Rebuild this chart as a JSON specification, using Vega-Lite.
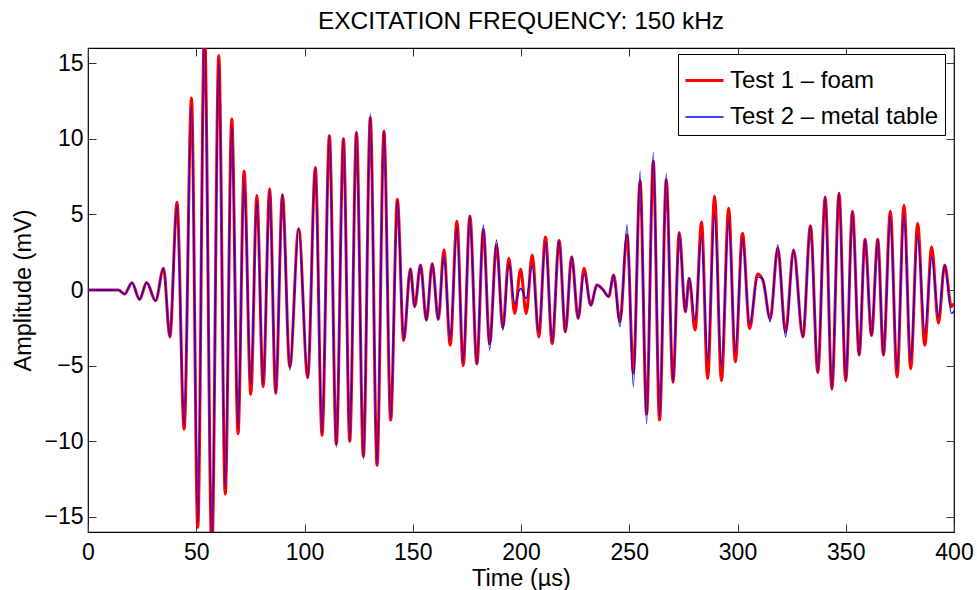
{
  "$schema": "https://vega.github.io/schema/vega-lite/v6.json",
  "autosize": {"type": "none"},
  "padding": {"left": 88, "top": 48, "right": 23, "bottom": 58},
  "width": 866,
  "height": 484,
  "title": {"text": "EXCITATION FREQUENCY: 150 kHz", "fontSize": 24.5, "fontWeight": "normal", "font": "Liberation Sans", "color": "black", "offset": 13, "anchor": "middle"},
  "config": {
    "view": {"stroke": "black", "strokeWidth": 1.2},
    "axis": {"labelFont": "Liberation Sans", "titleFont": "Liberation Sans", "labelFontSize": 23, "titleFontSize": 23.5, "labelColor": "black", "titleColor": "black", "titleFontWeight": "normal", "grid": false, "domain": false, "tickColor": "#333", "tickSize": -8, "tickWidth": 1, "labelFlush": false}
  },
  "data": {"values": [
    {"test": "Test 1 – foam", "t": 0, "mV": 0},
    {"test": "Test 1 – foam", "t": 14, "mV": 0},
    {"test": "Test 1 – foam", "t": 16.9, "mV": -0.27},
    {"test": "Test 1 – foam", "t": 20.3, "mV": 0.48},
    {"test": "Test 1 – foam", "t": 23.8, "mV": -0.62},
    {"test": "Test 1 – foam", "t": 27.1, "mV": 0.49},
    {"test": "Test 1 – foam", "t": 31.2, "mV": -0.71},
    {"test": "Test 1 – foam", "t": 34.9, "mV": 1.44},
    {"test": "Test 1 – foam", "t": 37.8, "mV": -3.1},
    {"test": "Test 1 – foam", "t": 41.1, "mV": 5.8},
    {"test": "Test 1 – foam", "t": 44.4, "mV": -9.2},
    {"test": "Test 1 – foam", "t": 47.8, "mV": 12.7},
    {"test": "Test 1 – foam", "t": 50.7, "mV": -15.7},
    {"test": "Test 1 – foam", "t": 53.8, "mV": 17.3},
    {"test": "Test 1 – foam", "t": 57.2, "mV": -17.3},
    {"test": "Test 1 – foam", "t": 60.4, "mV": 15.5},
    {"test": "Test 1 – foam", "t": 63.4, "mV": -13.5},
    {"test": "Test 1 – foam", "t": 66.4, "mV": 11.3},
    {"test": "Test 1 – foam", "t": 69.3, "mV": -9.5},
    {"test": "Test 1 – foam", "t": 72.1, "mV": 7.85},
    {"test": "Test 1 – foam", "t": 75.2, "mV": -6.9},
    {"test": "Test 1 – foam", "t": 78.0, "mV": 6.25},
    {"test": "Test 1 – foam", "t": 80.9, "mV": -6.4},
    {"test": "Test 1 – foam", "t": 83.9, "mV": 6.7},
    {"test": "Test 1 – foam", "t": 86.7, "mV": -6.85},
    {"test": "Test 1 – foam", "t": 89.8, "mV": 6.3},
    {"test": "Test 1 – foam", "t": 93.2, "mV": -5.1},
    {"test": "Test 1 – foam", "t": 97.3, "mV": 4.05},
    {"test": "Test 1 – foam", "t": 101.5, "mV": -5.8},
    {"test": "Test 1 – foam", "t": 105.0, "mV": 8.1},
    {"test": "Test 1 – foam", "t": 108.1, "mV": -9.6},
    {"test": "Test 1 – foam", "t": 111.5, "mV": 10.2},
    {"test": "Test 1 – foam", "t": 114.7, "mV": -10.2},
    {"test": "Test 1 – foam", "t": 118.0, "mV": 10.0},
    {"test": "Test 1 – foam", "t": 120.9, "mV": -10.0},
    {"test": "Test 1 – foam", "t": 124.0, "mV": 10.4},
    {"test": "Test 1 – foam", "t": 127.2, "mV": -11.0},
    {"test": "Test 1 – foam", "t": 130.4, "mV": 11.4},
    {"test": "Test 1 – foam", "t": 133.5, "mV": -11.6},
    {"test": "Test 1 – foam", "t": 136.7, "mV": 10.5},
    {"test": "Test 1 – foam", "t": 139.8, "mV": -8.6},
    {"test": "Test 1 – foam", "t": 142.9, "mV": 6.0},
    {"test": "Test 1 – foam", "t": 145.8, "mV": -3.35},
    {"test": "Test 1 – foam", "t": 148.9, "mV": 1.4},
    {"test": "Test 1 – foam", "t": 150.9, "mV": -1.1},
    {"test": "Test 1 – foam", "t": 153.6, "mV": 1.65},
    {"test": "Test 1 – foam", "t": 156.3, "mV": -2.0},
    {"test": "Test 1 – foam", "t": 159.0, "mV": 1.75},
    {"test": "Test 1 – foam", "t": 161.8, "mV": -1.95},
    {"test": "Test 1 – foam", "t": 164.4, "mV": 2.65},
    {"test": "Test 1 – foam", "t": 167.3, "mV": -3.65},
    {"test": "Test 1 – foam", "t": 170.4, "mV": 4.55},
    {"test": "Test 1 – foam", "t": 173.3, "mV": -5.0},
    {"test": "Test 1 – foam", "t": 176.4, "mV": 4.9},
    {"test": "Test 1 – foam", "t": 179.6, "mV": -4.9},
    {"test": "Test 1 – foam", "t": 182.6, "mV": 4.0},
    {"test": "Test 1 – foam", "t": 185.5, "mV": -3.55},
    {"test": "Test 1 – foam", "t": 188.7, "mV": 3.0},
    {"test": "Test 1 – foam", "t": 191.6, "mV": -2.5},
    {"test": "Test 1 – foam", "t": 194.4, "mV": 2.1},
    {"test": "Test 1 – foam", "t": 197.1, "mV": -1.55},
    {"test": "Test 1 – foam", "t": 199.8, "mV": 1.37},
    {"test": "Test 1 – foam", "t": 202.4, "mV": -1.55},
    {"test": "Test 1 – foam", "t": 205.2, "mV": 2.32},
    {"test": "Test 1 – foam", "t": 208.2, "mV": -3.1},
    {"test": "Test 1 – foam", "t": 211.3, "mV": 3.5},
    {"test": "Test 1 – foam", "t": 214.4, "mV": -3.55},
    {"test": "Test 1 – foam", "t": 217.6, "mV": 3.27},
    {"test": "Test 1 – foam", "t": 220.5, "mV": -2.76},
    {"test": "Test 1 – foam", "t": 223.4, "mV": 2.2},
    {"test": "Test 1 – foam", "t": 226.4, "mV": -1.88},
    {"test": "Test 1 – foam", "t": 229.1, "mV": 1.44},
    {"test": "Test 1 – foam", "t": 232.2, "mV": -1.0},
    {"test": "Test 1 – foam", "t": 235.1, "mV": 0.33},
    {"test": "Test 1 – foam", "t": 237.7, "mV": 0.05},
    {"test": "Test 1 – foam", "t": 240.5, "mV": -0.44},
    {"test": "Test 1 – foam", "t": 242.8, "mV": 1.0},
    {"test": "Test 1 – foam", "t": 245.7, "mV": -2.1},
    {"test": "Test 1 – foam", "t": 249.0, "mV": 3.65},
    {"test": "Test 1 – foam", "t": 251.9, "mV": -5.5},
    {"test": "Test 1 – foam", "t": 255.0, "mV": 7.2},
    {"test": "Test 1 – foam", "t": 258.0, "mV": -8.2},
    {"test": "Test 1 – foam", "t": 261.1, "mV": 8.5},
    {"test": "Test 1 – foam", "t": 264.0, "mV": -8.6},
    {"test": "Test 1 – foam", "t": 267.1, "mV": 7.3},
    {"test": "Test 1 – foam", "t": 270.2, "mV": -6.1},
    {"test": "Test 1 – foam", "t": 273.1, "mV": 3.8},
    {"test": "Test 1 – foam", "t": 275.9, "mV": -1.45},
    {"test": "Test 1 – foam", "t": 277.7, "mV": 0.78},
    {"test": "Test 1 – foam", "t": 280.4, "mV": -2.65},
    {"test": "Test 1 – foam", "t": 283.4, "mV": 4.5},
    {"test": "Test 1 – foam", "t": 286.2, "mV": -5.85},
    {"test": "Test 1 – foam", "t": 289.4, "mV": 6.2},
    {"test": "Test 1 – foam", "t": 292.6, "mV": -6.0},
    {"test": "Test 1 – foam", "t": 295.9, "mV": 5.4},
    {"test": "Test 1 – foam", "t": 299.0, "mV": -4.75},
    {"test": "Test 1 – foam", "t": 302.3, "mV": 3.75},
    {"test": "Test 1 – foam", "t": 305.6, "mV": -2.55},
    {"test": "Test 1 – foam", "t": 309.3, "mV": 1.05},
    {"test": "Test 1 – foam", "t": 311.8, "mV": 0.6},
    {"test": "Test 1 – foam", "t": 315.1, "mV": -1.9},
    {"test": "Test 1 – foam", "t": 318.6, "mV": 2.76},
    {"test": "Test 1 – foam", "t": 322.2, "mV": -2.8},
    {"test": "Test 1 – foam", "t": 325.9, "mV": 2.65},
    {"test": "Test 1 – foam", "t": 330.2, "mV": -3.1},
    {"test": "Test 1 – foam", "t": 333.7, "mV": 4.25},
    {"test": "Test 1 – foam", "t": 337.1, "mV": -5.45},
    {"test": "Test 1 – foam", "t": 340.5, "mV": 6.15},
    {"test": "Test 1 – foam", "t": 343.6, "mV": -6.55},
    {"test": "Test 1 – foam", "t": 346.9, "mV": 6.4},
    {"test": "Test 1 – foam", "t": 350.0, "mV": -6.0},
    {"test": "Test 1 – foam", "t": 353.1, "mV": 5.2},
    {"test": "Test 1 – foam", "t": 356.2, "mV": -4.3},
    {"test": "Test 1 – foam", "t": 358.9, "mV": 3.36},
    {"test": "Test 1 – foam", "t": 361.9, "mV": -3.0},
    {"test": "Test 1 – foam", "t": 364.8, "mV": 3.36},
    {"test": "Test 1 – foam", "t": 367.4, "mV": -4.3},
    {"test": "Test 1 – foam", "t": 370.6, "mV": 5.2},
    {"test": "Test 1 – foam", "t": 373.7, "mV": -5.75},
    {"test": "Test 1 – foam", "t": 376.9, "mV": 5.6},
    {"test": "Test 1 – foam", "t": 380.0, "mV": -5.2},
    {"test": "Test 1 – foam", "t": 383.2, "mV": 4.4},
    {"test": "Test 1 – foam", "t": 386.5, "mV": -3.65},
    {"test": "Test 1 – foam", "t": 389.7, "mV": 2.85},
    {"test": "Test 1 – foam", "t": 392.8, "mV": -2.2},
    {"test": "Test 1 – foam", "t": 395.7, "mV": 1.66},
    {"test": "Test 1 – foam", "t": 398.8, "mV": -1.1},
    {"test": "Test 1 – foam", "t": 400, "mV": -0.9},
    {"test": "Test 2 – metal table", "t": 0, "mV": 0},
    {"test": "Test 2 – metal table", "t": 14, "mV": 0},
    {"test": "Test 2 – metal table", "t": 16.9, "mV": -0.27},
    {"test": "Test 2 – metal table", "t": 20.3, "mV": 0.48},
    {"test": "Test 2 – metal table", "t": 23.8, "mV": -0.62},
    {"test": "Test 2 – metal table", "t": 27.1, "mV": 0.49},
    {"test": "Test 2 – metal table", "t": 31.2, "mV": -0.71},
    {"test": "Test 2 – metal table", "t": 34.9, "mV": 1.44},
    {"test": "Test 2 – metal table", "t": 37.8, "mV": -3.1},
    {"test": "Test 2 – metal table", "t": 41.1, "mV": 5.6},
    {"test": "Test 2 – metal table", "t": 44.4, "mV": -9.0},
    {"test": "Test 2 – metal table", "t": 47.8, "mV": 12.2},
    {"test": "Test 2 – metal table", "t": 50.7, "mV": -15.4},
    {"test": "Test 2 – metal table", "t": 53.8, "mV": 17.0},
    {"test": "Test 2 – metal table", "t": 57.2, "mV": -17.0},
    {"test": "Test 2 – metal table", "t": 60.4, "mV": 15.2},
    {"test": "Test 2 – metal table", "t": 63.4, "mV": -13.1},
    {"test": "Test 2 – metal table", "t": 66.4, "mV": 10.9},
    {"test": "Test 2 – metal table", "t": 69.3, "mV": -9.2},
    {"test": "Test 2 – metal table", "t": 72.1, "mV": 7.35},
    {"test": "Test 2 – metal table", "t": 75.2, "mV": -6.3},
    {"test": "Test 2 – metal table", "t": 78.0, "mV": 5.9},
    {"test": "Test 2 – metal table", "t": 80.9, "mV": -6.2},
    {"test": "Test 2 – metal table", "t": 83.9, "mV": 6.5},
    {"test": "Test 2 – metal table", "t": 86.7, "mV": -6.8},
    {"test": "Test 2 – metal table", "t": 89.8, "mV": 6.3},
    {"test": "Test 2 – metal table", "t": 93.2, "mV": -5.3},
    {"test": "Test 2 – metal table", "t": 97.3, "mV": 4.05},
    {"test": "Test 2 – metal table", "t": 101.5, "mV": -5.8},
    {"test": "Test 2 – metal table", "t": 105.0, "mV": 8.0},
    {"test": "Test 2 – metal table", "t": 108.1, "mV": -9.5},
    {"test": "Test 2 – metal table", "t": 111.5, "mV": 10.2},
    {"test": "Test 2 – metal table", "t": 114.7, "mV": -10.4},
    {"test": "Test 2 – metal table", "t": 118.0, "mV": 10.0},
    {"test": "Test 2 – metal table", "t": 120.9, "mV": -10.0},
    {"test": "Test 2 – metal table", "t": 124.0, "mV": 10.5},
    {"test": "Test 2 – metal table", "t": 127.2, "mV": -11.2},
    {"test": "Test 2 – metal table", "t": 130.4, "mV": 11.7},
    {"test": "Test 2 – metal table", "t": 133.5, "mV": -11.6},
    {"test": "Test 2 – metal table", "t": 136.7, "mV": 10.5},
    {"test": "Test 2 – metal table", "t": 139.8, "mV": -8.5},
    {"test": "Test 2 – metal table", "t": 142.9, "mV": 5.9},
    {"test": "Test 2 – metal table", "t": 145.8, "mV": -3.3},
    {"test": "Test 2 – metal table", "t": 148.9, "mV": 1.37},
    {"test": "Test 2 – metal table", "t": 150.9, "mV": -1.1},
    {"test": "Test 2 – metal table", "t": 153.6, "mV": 1.66},
    {"test": "Test 2 – metal table", "t": 156.3, "mV": -1.99},
    {"test": "Test 2 – metal table", "t": 159.0, "mV": 1.73},
    {"test": "Test 2 – metal table", "t": 161.8, "mV": -1.95},
    {"test": "Test 2 – metal table", "t": 164.4, "mV": 2.3},
    {"test": "Test 2 – metal table", "t": 167.3, "mV": -3.3},
    {"test": "Test 2 – metal table", "t": 170.4, "mV": 4.1},
    {"test": "Test 2 – metal table", "t": 173.3, "mV": -4.75},
    {"test": "Test 2 – metal table", "t": 176.4, "mV": 4.91},
    {"test": "Test 2 – metal table", "t": 179.6, "mV": -4.87},
    {"test": "Test 2 – metal table", "t": 182.6, "mV": 4.31},
    {"test": "Test 2 – metal table", "t": 185.5, "mV": -3.98},
    {"test": "Test 2 – metal table", "t": 188.7, "mV": 3.32},
    {"test": "Test 2 – metal table", "t": 191.6, "mV": -2.65},
    {"test": "Test 2 – metal table", "t": 194.4, "mV": 1.77},
    {"test": "Test 2 – metal table", "t": 197.1, "mV": -0.9},
    {"test": "Test 2 – metal table", "t": 199.8, "mV": 0.1},
    {"test": "Test 2 – metal table", "t": 202.4, "mV": -0.55},
    {"test": "Test 2 – metal table", "t": 205.2, "mV": 1.59},
    {"test": "Test 2 – metal table", "t": 208.2, "mV": -2.76},
    {"test": "Test 2 – metal table", "t": 211.3, "mV": 3.2},
    {"test": "Test 2 – metal table", "t": 214.4, "mV": -3.4},
    {"test": "Test 2 – metal table", "t": 217.6, "mV": 3.27},
    {"test": "Test 2 – metal table", "t": 220.5, "mV": -2.76},
    {"test": "Test 2 – metal table", "t": 223.4, "mV": 2.21},
    {"test": "Test 2 – metal table", "t": 226.4, "mV": -1.88},
    {"test": "Test 2 – metal table", "t": 229.1, "mV": 1.1},
    {"test": "Test 2 – metal table", "t": 232.2, "mV": -1.0},
    {"test": "Test 2 – metal table", "t": 235.1, "mV": 0.33},
    {"test": "Test 2 – metal table", "t": 237.7, "mV": 0.05},
    {"test": "Test 2 – metal table", "t": 240.5, "mV": -0.44},
    {"test": "Test 2 – metal table", "t": 242.8, "mV": 1.0},
    {"test": "Test 2 – metal table", "t": 245.7, "mV": -2.43},
    {"test": "Test 2 – metal table", "t": 249.0, "mV": 4.31},
    {"test": "Test 2 – metal table", "t": 251.9, "mV": -6.4},
    {"test": "Test 2 – metal table", "t": 255.0, "mV": 7.85},
    {"test": "Test 2 – metal table", "t": 258.0, "mV": -8.85},
    {"test": "Test 2 – metal table", "t": 261.1, "mV": 9.1},
    {"test": "Test 2 – metal table", "t": 264.0, "mV": -8.4},
    {"test": "Test 2 – metal table", "t": 267.1, "mV": 7.68},
    {"test": "Test 2 – metal table", "t": 270.2, "mV": -6.08},
    {"test": "Test 2 – metal table", "t": 273.1, "mV": 3.76},
    {"test": "Test 2 – metal table", "t": 275.9, "mV": -1.44},
    {"test": "Test 2 – metal table", "t": 277.7, "mV": 0.78},
    {"test": "Test 2 – metal table", "t": 280.4, "mV": -2.0},
    {"test": "Test 2 – metal table", "t": 283.4, "mV": 3.58},
    {"test": "Test 2 – metal table", "t": 286.2, "mV": -4.65},
    {"test": "Test 2 – metal table", "t": 289.4, "mV": 5.04},
    {"test": "Test 2 – metal table", "t": 292.6, "mV": -5.09},
    {"test": "Test 2 – metal table", "t": 295.9, "mV": 4.65},
    {"test": "Test 2 – metal table", "t": 299.0, "mV": -4.1},
    {"test": "Test 2 – metal table", "t": 302.3, "mV": 3.4},
    {"test": "Test 2 – metal table", "t": 305.6, "mV": -2.3},
    {"test": "Test 2 – metal table", "t": 309.3, "mV": 0.85},
    {"test": "Test 2 – metal table", "t": 311.6, "mV": 0.75},
    {"test": "Test 2 – metal table", "t": 315.1, "mV": -2.1},
    {"test": "Test 2 – metal table", "t": 318.6, "mV": 2.98},
    {"test": "Test 2 – metal table", "t": 322.2, "mV": -3.1},
    {"test": "Test 2 – metal table", "t": 325.9, "mV": 2.65},
    {"test": "Test 2 – metal table", "t": 330.2, "mV": -3.1},
    {"test": "Test 2 – metal table", "t": 333.7, "mV": 4.25},
    {"test": "Test 2 – metal table", "t": 337.1, "mV": -5.42},
    {"test": "Test 2 – metal table", "t": 340.5, "mV": 6.13},
    {"test": "Test 2 – metal table", "t": 343.6, "mV": -6.52},
    {"test": "Test 2 – metal table", "t": 346.9, "mV": 6.42},
    {"test": "Test 2 – metal table", "t": 350.0, "mV": -5.97},
    {"test": "Test 2 – metal table", "t": 353.1, "mV": 5.2},
    {"test": "Test 2 – metal table", "t": 356.2, "mV": -4.31},
    {"test": "Test 2 – metal table", "t": 358.9, "mV": 3.36},
    {"test": "Test 2 – metal table", "t": 361.9, "mV": -2.99},
    {"test": "Test 2 – metal table", "t": 364.8, "mV": 3.36},
    {"test": "Test 2 – metal table", "t": 367.4, "mV": -4.31},
    {"test": "Test 2 – metal table", "t": 370.6, "mV": 4.9},
    {"test": "Test 2 – metal table", "t": 373.7, "mV": -5.3},
    {"test": "Test 2 – metal table", "t": 376.9, "mV": 5.1},
    {"test": "Test 2 – metal table", "t": 380.0, "mV": -4.65},
    {"test": "Test 2 – metal table", "t": 383.2, "mV": 3.65},
    {"test": "Test 2 – metal table", "t": 386.5, "mV": -2.76},
    {"test": "Test 2 – metal table", "t": 389.7, "mV": 2.2},
    {"test": "Test 2 – metal table", "t": 392.8, "mV": -1.77},
    {"test": "Test 2 – metal table", "t": 395.7, "mV": 1.66},
    {"test": "Test 2 – metal table", "t": 398.8, "mV": -1.55},
    {"test": "Test 2 – metal table", "t": 400, "mV": -1.4}
  ]},
  "resolve": {"axis": {"x": "independent", "y": "independent"}},
  "layer": [
    {
      "transform": [{"filter": "datum.test === 'Test 1 – foam'"}],
      "mark": {"type": "line", "interpolate": "monotone", "clip": true},
      "encoding": {
        "x": {"field": "t", "type": "quantitative", "scale": {"domain": [0, 400], "nice": false, "zero": false},
              "axis": {"values": [0, 50, 100, 150, 200, 250, 300, 350, 400], "title": "Time (µs)", "labelPadding": 17, "titlePadding": 2, "format": "d"}},
        "y": {"field": "mV", "type": "quantitative", "scale": {"domain": [-16, 16], "nice": false},
              "axis": {"values": [-15, -10, -5, 0, 5, 10, 15], "title": "Amplitude (mV)", "labelPadding": 13, "titlePadding": 8, "format": "d"}},
        "color": {"field": "test", "type": "nominal", "scale": {"domain": ["Test 1 – foam", "Test 2 – metal table"], "range": ["#ff0000", "#0000ff"]},
                  "legend": {"title": null, "orient": "none", "legendX": 590, "legendY": 6, "strokeColor": "black", "fillColor": "white", "padding": 6, "rowPadding": 4, "symbolType": "stroke", "symbolSize": 1444, "symbolOpacity": 1, "labelFontSize": 24, "labelFont": "Liberation Sans", "labelColor": "black", "labelOffset": 5, "labelLimit": 500, "cornerRadius": 0}},
        "strokeWidth": {"field": "test", "type": "nominal", "scale": {"domain": ["Test 1 – foam", "Test 2 – metal table"], "range": [3, 1.3]}, "legend": null}
      }
    },
    {
      "transform": [{"filter": "datum.test === 'Test 2 – metal table'"}],
      "mark": {"type": "line", "interpolate": "monotone", "clip": true},
      "encoding": {
        "x": {"field": "t", "type": "quantitative", "axis": {"orient": "top", "labels": false, "title": null, "values": [0, 50, 100, 150, 200, 250, 300, 350, 400]}},
        "y": {"field": "mV", "type": "quantitative", "axis": {"orient": "right", "labels": false, "title": null, "values": [-15, -10, -5, 0, 5, 10, 15]}},
        "color": {"field": "test", "type": "nominal"},
        "strokeWidth": {"field": "test", "type": "nominal", "legend": null}
      }
    }
  ]
}
